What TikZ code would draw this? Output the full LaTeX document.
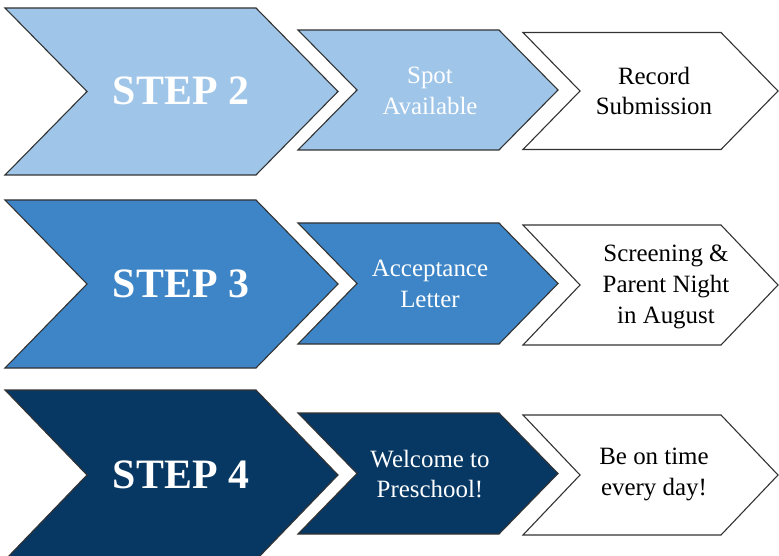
\documentclass[tikz,border=0pt]{standalone}
\usepackage{fontspec}
\setmainfont{Liberation Serif}
\definecolor{cone}{HTML}{9FC5E8}
\definecolor{ctwo}{HTML}{3D85C6}
\definecolor{cthree}{HTML}{073763}
\definecolor{edgec}{HTML}{333333}
\newcommand\chev[6]{\draw[chevbox,#6] (#1,#3-#4) -- (#2,#3-#4) -- (#2+#5,#3) -- (#2,#3+#4) -- (#1,#3+#4) -- (#1+#5,#3) -- cycle;}
\tikzset{
  chevbox/.style={draw=edgec, line width=1.1bp, line join=miter},
  steptext/.style={text=white, font=\fontsize{42}{48}\selectfont\bfseries, inner sep=0pt},
  midtext/.style={font=\fontsize{25}{31}\selectfont, align=center, inner sep=0pt},
}
\begin{document}
\begin{tikzpicture}[x=1bp, y=-1bp]
\useasboundingbox (0,0) rectangle (779,556);
% Row 1
\chev{5}{256}{91.5}{83.5}{82}{fill=cone}
\chev{298}{499}{90}{60}{59}{fill=cone}
\chev{523}{721}{91}{58.5}{57}{fill=white}
\node[steptext] (s2) at (181,91) {STEP 2};
\node[midtext, text=white] (m2) at (430,91) {Spot\\Available};
\node[midtext, text=black] (w2) at (654,91) {Record\\Submission};
% Row 2
\chev{5}{256}{284}{84}{82}{fill=ctwo}
\chev{298}{499}{283.5}{60.5}{59}{fill=ctwo}
\chev{523}{721}{285}{60}{57}{fill=white}
\node[steptext] (s3) at (181,284) {STEP 3};
\node[midtext, text=white] (m3) at (430,284) {Acceptance\\Letter};
\node[midtext, text=black] (w3) at (666,287) {Screening \&\\Parent Night\\in August};
% Row 3
\chev{5}{256}{475}{85}{82}{fill=cthree}
\chev{298}{499}{473.5}{60.5}{59}{fill=cthree}
\chev{523}{721}{475}{60}{57}{fill=white}
\node[steptext] (s4) at (181,475) {STEP 4};
\node[midtext, text=white] (m4) at (430,474) {Welcome to\\Preschool!};
\node[midtext, text=black] (w4) at (654,474) {Be on time\\every day!};
\end{tikzpicture}
\end{document}
